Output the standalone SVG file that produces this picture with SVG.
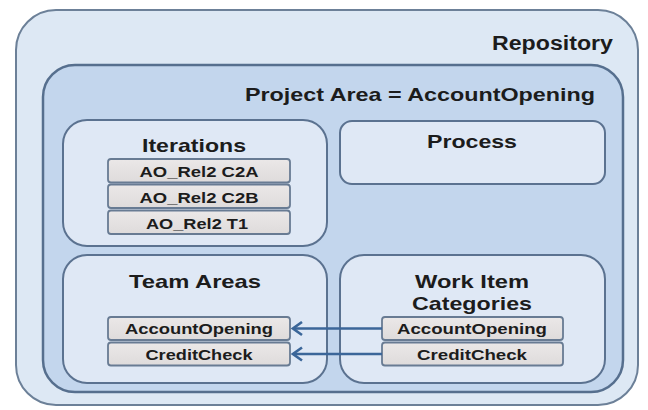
<svg xmlns="http://www.w3.org/2000/svg" width="648" height="410" viewBox="0 0 648 410">
  <style>
    .repo { fill: #dde8f4; stroke: #6c8098; stroke-width: 2; }
    .proj { fill: #c3d6ed; stroke: #566f8e; stroke-width: 2.5; }
    .area { fill: #dfe8f5; stroke: #5b7290; stroke-width: 2; }
    .item { fill: url(#itemFill); stroke: #687b93; stroke-width: 1.8; }
    .title { font-family: "Liberation Sans", Arial, sans-serif; font-weight: bold; fill: #1c1c1c; text-anchor: middle; }
    .big { font-size: 20px; }
    .head { font-size: 19px; }
    .lbl { font-size: 15px; }
    .link { stroke: #3b6699; stroke-width: 2.6; fill: none; marker-end: url(#chevron); }
  </style>
  <defs>
    <linearGradient id="itemFill" x1="0" y1="0" x2="0" y2="1">
      <stop offset="0" stop-color="#ebe8e8"/>
      <stop offset="1" stop-color="#dedbdb"/>
    </linearGradient>
    <!-- open chevron head; +x points along the line direction -->
    <marker id="chevron" viewBox="0 0 14 16" refX="12" refY="8" markerWidth="14" markerHeight="16" markerUnits="userSpaceOnUse" orient="auto">
      <path d="M 3 1.5 L 12 8 L 3 14.5" fill="none" stroke="#3b6699" stroke-width="2.6" stroke-linejoin="miter"/>
    </marker>
  </defs>

  <rect width="648" height="410" fill="#ffffff"/>

  <g id="repository">
    <rect class="repo" x="16" y="10" width="622" height="395" rx="40" ry="40"/>
    <text class="title big" x="552.5" y="50" textLength="121" lengthAdjust="spacingAndGlyphs">Repository</text>
  </g>

  <g id="project-area">
    <rect class="proj" x="43" y="65" width="580" height="327" rx="32" ry="32"/>
    <text class="title head" x="420" y="101" textLength="350" lengthAdjust="spacingAndGlyphs">Project Area = AccountOpening</text>
  </g>

  <g id="iterations">
    <rect class="area" x="63" y="120" width="264" height="126" rx="24" ry="24"/>
    <text class="title head" x="194" y="152" textLength="104" lengthAdjust="spacingAndGlyphs">Iterations</text>
    <rect class="item" x="108" y="159" width="182" height="23.5" rx="3"/>
    <rect class="item" x="108" y="184.5" width="182" height="23.5" rx="3"/>
    <rect class="item" x="108" y="210.5" width="182" height="23.5" rx="3"/>
    <text class="title lbl" x="199" y="177" textLength="119" lengthAdjust="spacingAndGlyphs">AO_Rel2 C2A</text>
    <text class="title lbl" x="199" y="202.5" textLength="119" lengthAdjust="spacingAndGlyphs">AO_Rel2 C2B</text>
    <text class="title lbl" x="197" y="228.5" textLength="102" lengthAdjust="spacingAndGlyphs">AO_Rel2 T1</text>
  </g>

  <g id="process">
    <rect class="area" x="340" y="121" width="265" height="63" rx="12" ry="12"/>
    <text class="title head" x="472" y="148" textLength="90" lengthAdjust="spacingAndGlyphs">Process</text>
  </g>

  <g id="team-areas">
    <rect class="area" x="63" y="255" width="264" height="128" rx="24" ry="24"/>
    <text class="title head" x="195" y="288" textLength="132" lengthAdjust="spacingAndGlyphs">Team Areas</text>
    <rect class="item" x="108" y="317" width="182" height="23" rx="3"/>
    <rect class="item" x="108" y="342.5" width="182" height="23" rx="3"/>
    <text class="title lbl" x="199" y="334" textLength="148" lengthAdjust="spacingAndGlyphs">AccountOpening</text>
    <text class="title lbl" x="199" y="359.5" textLength="107" lengthAdjust="spacingAndGlyphs">CreditCheck</text>
  </g>

  <g id="work-item-categories">
    <rect class="area" x="340" y="255" width="265" height="128" rx="24" ry="24"/>
    <text class="title head" x="472" y="288" textLength="114" lengthAdjust="spacingAndGlyphs">Work Item</text>
    <text class="title head" x="472" y="310" textLength="120" lengthAdjust="spacingAndGlyphs">Categories</text>
    <rect class="item" x="382" y="317" width="181" height="23" rx="3"/>
    <rect class="item" x="382" y="342.5" width="181" height="23" rx="3"/>
    <text class="title lbl" x="472" y="334" textLength="150" lengthAdjust="spacingAndGlyphs">AccountOpening</text>
    <text class="title lbl" x="472" y="359.5" textLength="110" lengthAdjust="spacingAndGlyphs">CreditCheck</text>
  </g>

  <g id="connectors">
    <line class="link" x1="382" y1="328.5" x2="293" y2="328.5"/>
    <line class="link" x1="382" y1="354" x2="293" y2="354"/>
  </g>
</svg>
